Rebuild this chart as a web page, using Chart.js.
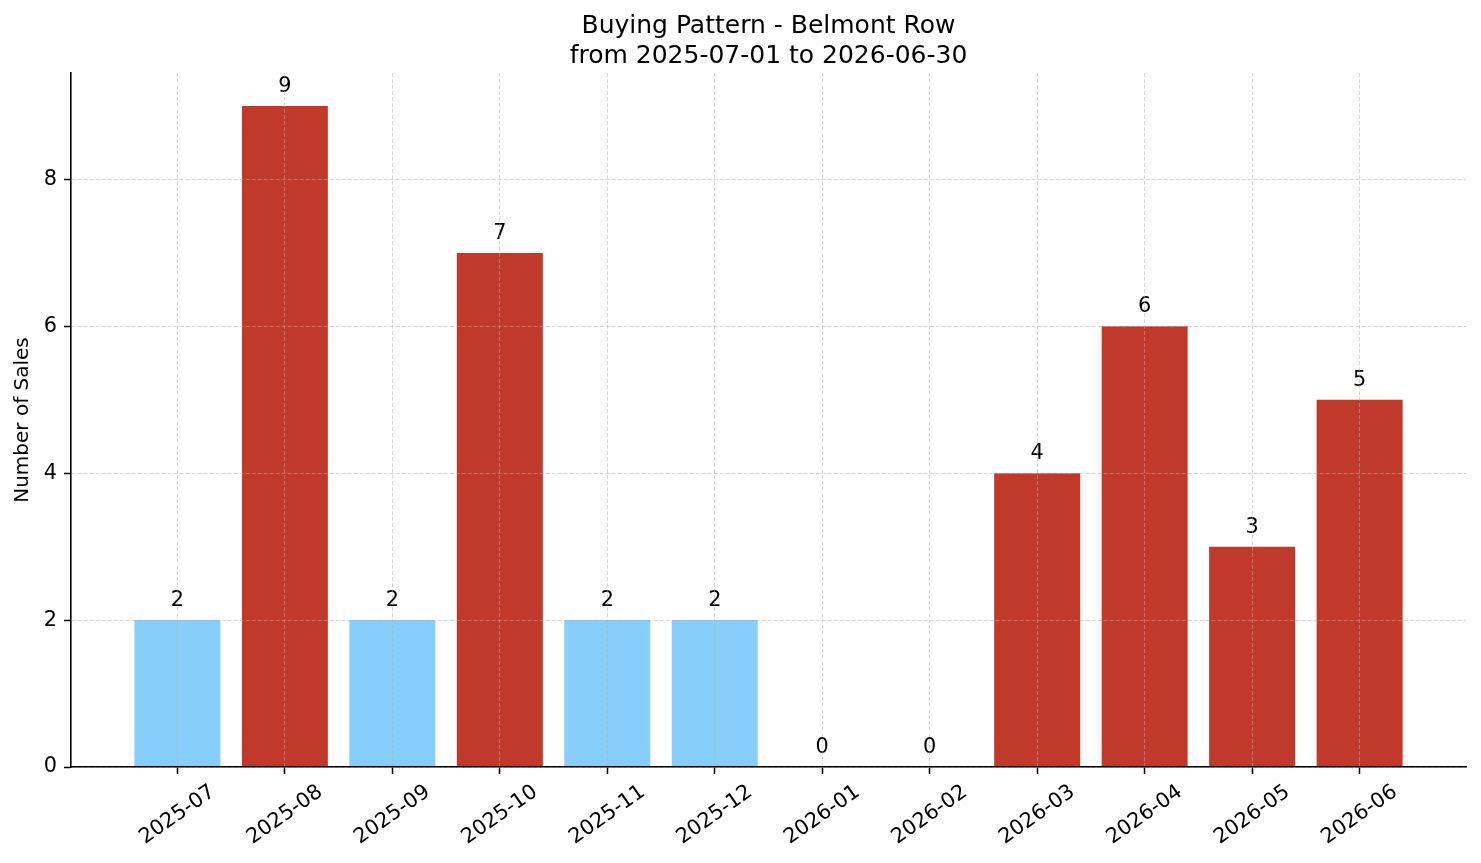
<!DOCTYPE html>
<html><head><meta charset="utf-8">
<script src="https://cdn.jsdelivr.net/npm/chart.js@4.4.0/dist/chart.umd.min.js"></script>
<style>html,body{margin:0;padding:0;background:#fff;} #wrap{width:1481px;height:863px;}</style>
</head><body><div id="wrap"><canvas id="c" width="1481" height="863"></canvas></div>
<script>
const titleLines = ['Buying Pattern - Belmont Row', 'from 2025-07-01 to 2026-06-30'];
const months = ['2025-07','2025-08','2025-09','2025-10','2025-11','2025-12','2026-01','2026-02','2026-03','2026-04','2026-05','2026-06'];
const sales = [2, 9, 2, 7, 2, 2, 0, 0, 4, 6, 3, 5];
const yTicks = [0, 2, 4, 6, 8];
const yLabel = 'Number of Sales';

const RED = '#C0392B';
const BLUE = '#87CEFA';
const FONT = "'DejaVu Sans', sans-serif";
const TICK_FS = 20.8;
const TITLE_FS = 25;

const barColors = sales.map(v => v > 2 ? RED : BLUE);

const valueLabels = {
  id: 'valueLabels',
  afterDatasetsDraw(chart) {
    const ctx = chart.ctx;
    const meta = chart.getDatasetMeta(0);
    ctx.save();
    ctx.font = TICK_FS + 'px ' + FONT;
    ctx.fillStyle = '#000';
    ctx.textAlign = 'center';
    ctx.textBaseline = 'alphabetic';
    meta.data.forEach((bar, i) => {
      ctx.fillText(String(sales[i]), bar.x, bar.y - 14);
    });
    ctx.restore();
  }
};

const xLabels = {
  id: 'xLabels',
  afterDraw(chart) {
    const ctx = chart.ctx;
    const xs = chart.scales.x;
    const ang = 35 * Math.PI / 180;
    const top = chart.chartArea.bottom + 15;
    ctx.save();
    ctx.font = TICK_FS + 'px ' + FONT;
    ctx.fillStyle = '#000';
    ctx.textAlign = 'center';
    ctx.textBaseline = 'middle';
    months.forEach((m, i) => {
      const x = xs.getPixelForValue(i);
      const w = ctx.measureText(m).width;
      const h = TICK_FS * 0.95;
      const H = w * Math.sin(ang) + h * Math.cos(ang);
      ctx.save();
      ctx.translate(x, top + H / 2);
      ctx.rotate(-ang);
      ctx.fillText(m, 0, 0);
      ctx.restore();
    });
    ctx.restore();
  }
};

const axesTitle = {
  id: 'axesTitle',
  afterDraw(chart) {
    const ctx = chart.ctx;
    const ca = chart.chartArea;
    const cx = (ca.left + ca.right) / 2;
    ctx.save();
    ctx.font = TITLE_FS + 'px ' + FONT;
    ctx.fillStyle = '#000';
    ctx.textAlign = 'center';
    ctx.textBaseline = 'middle';
    titleLines.forEach((t, i) => {
      ctx.fillText(t, cx, 26 + i * 30);
    });
    ctx.restore();
  }
};

const gridColor = 'rgba(176,176,176,0.5)';

new Chart(document.getElementById('c'), {
  type: 'bar',
  data: {
    datasets: [{
      data: sales.map((v, i) => ({x: i, y: v})),
      backgroundColor: barColors,
      borderWidth: 0,
      barPercentage: 0.8,
      categoryPercentage: 1.0
    }]
  },
  options: {
    responsive: false,
    animation: false,
    devicePixelRatio: 1,
    layout: {padding: {left: 0, right: 15, top: 73, bottom: 0}},
    plugins: {
      legend: {display: false},
      tooltip: {enabled: false},
      title: {display: false}
    },
    scales: {
      x: {
        type: 'linear',
        min: -0.99,
        max: 11.99,
        offset: false,
        afterBuildTicks: (axis) => { axis.ticks = months.map((_, i) => ({value: i})); },
        afterFit: (scale) => { scale.height = 96; },
        ticks: {display: false},
        grid: {
          display: true, offset: false, z: 1, color: gridColor, lineWidth: 1,
          drawTicks: true, tickLength: 7, tickColor: '#000', tickWidth: 1.5, tickBorderDash: []
        },
        border: {display: true, color: '#000', width: 1.6, dash: [4, 2], z: 2}
      },
      y: {
        type: 'linear',
        min: 0,
        max: 9.45,
        afterBuildTicks: (axis) => { axis.ticks = yTicks.map(v => ({value: v})); },
        afterFit: (scale) => { scale.width = 71; },
        ticks: {
          color: '#000', padding: 7,
          font: {family: FONT, size: TICK_FS},
          callback: (v) => String(v)
        },
        grid: {
          display: true, z: 1, color: gridColor, lineWidth: 1,
          drawTicks: true, tickLength: 7, tickColor: '#000', tickWidth: 1.5, tickBorderDash: []
        },
        border: {display: true, color: '#000', width: 1.6, dash: [4, 2], z: 2},
        title: {
          display: true, text: yLabel, color: '#000',
          font: {family: FONT, size: 20, weight: 'normal', lineHeight: 1.2},
          padding: {top: 11, bottom: 0}
        }
      }
    }
  },
  plugins: [valueLabels, xLabels, axesTitle]
});
</script></body></html>
